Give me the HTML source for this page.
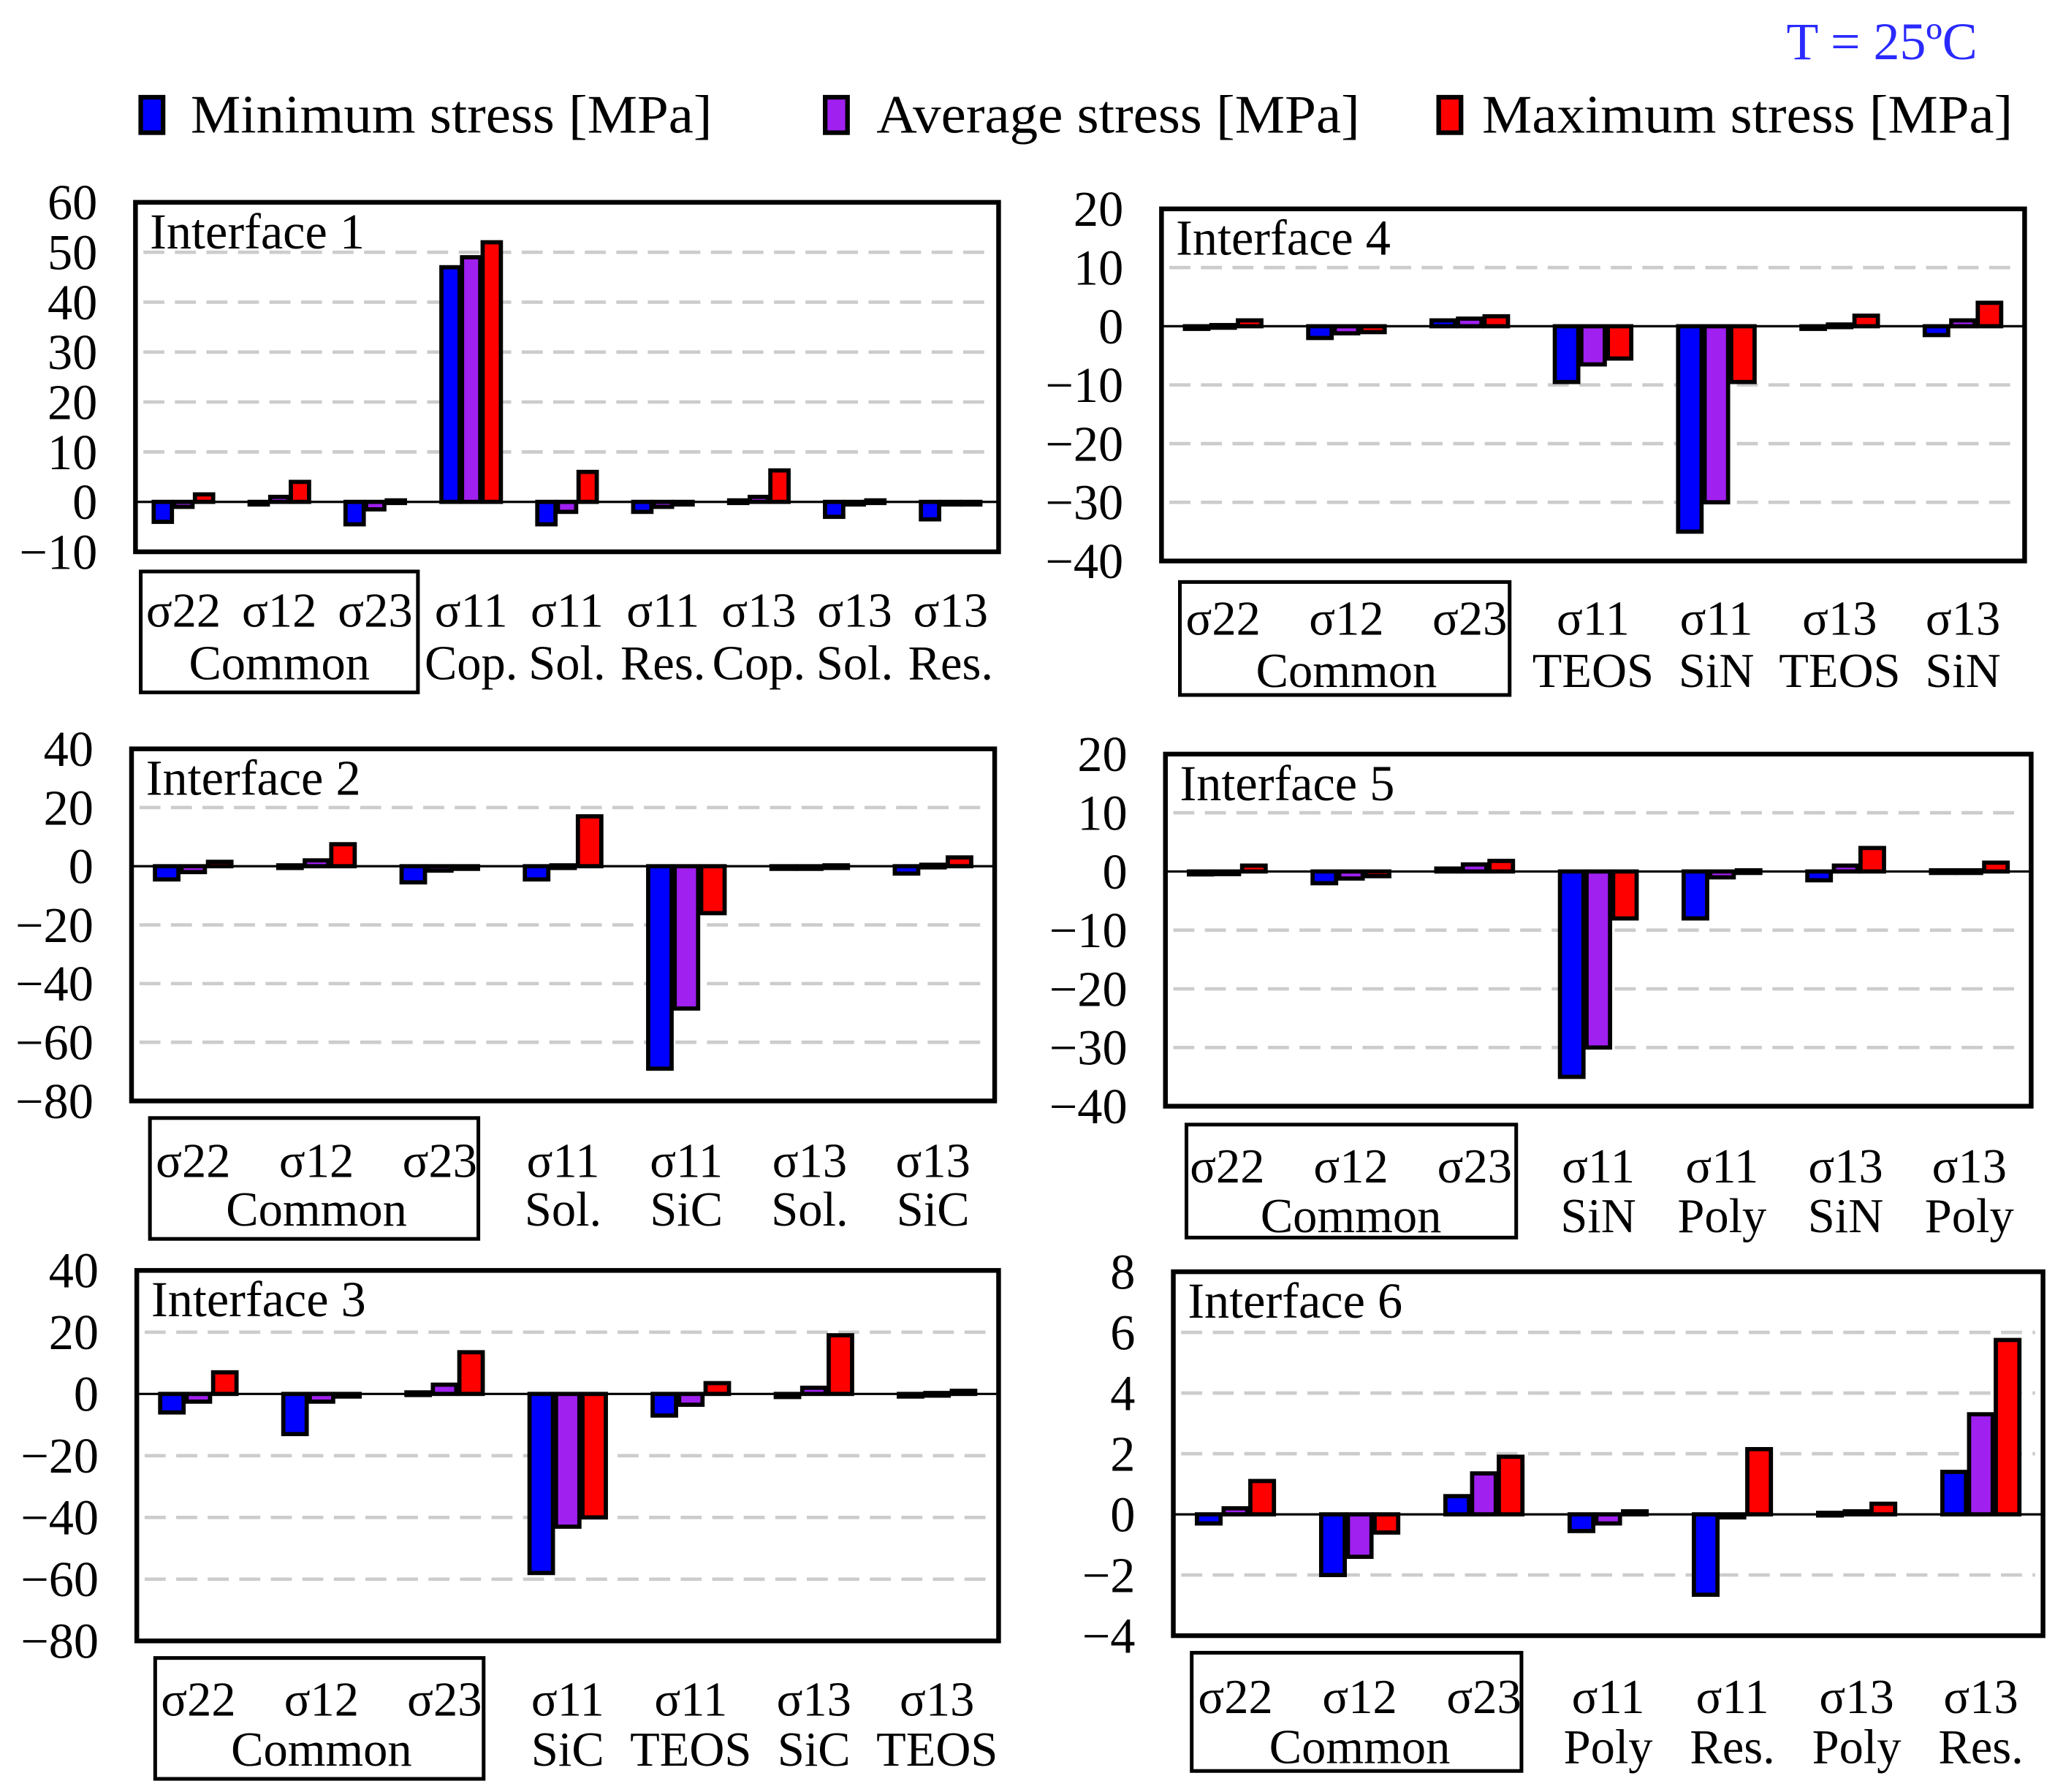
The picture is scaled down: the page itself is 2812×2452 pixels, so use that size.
<!DOCTYPE html>
<html><head><meta charset="utf-8"><style>
html,body{margin:0;padding:0;background:#fff}
svg{display:block}
text{font-family:"Liberation Serif",serif;fill:#000}
</style></head><body>
<svg id="chart" width="2812" height="2452" viewBox="0 0 1564 1364" xmlns="http://www.w3.org/2000/svg">
<text x="1505" y="45" text-anchor="end" font-size="40" style="fill:#2a2aff">T = 25ºC</text>
<g>
<g><rect x="107" y="74" width="17" height="27" fill="#0000ff" stroke="#000" stroke-width="3.5"/><text x="145" y="101" font-size="41" textLength="397" lengthAdjust="spacingAndGlyphs">Minimum stress [MPa]</text></g>
<g><rect x="628" y="74" width="17" height="27" fill="#a020f0" stroke="#000" stroke-width="3.5"/><text x="667" y="101" font-size="41" textLength="368" lengthAdjust="spacingAndGlyphs">Average stress [MPa]</text></g>
<g><rect x="1095" y="74" width="17" height="27" fill="#ff0000" stroke="#000" stroke-width="3.5"/><text x="1128" y="101" font-size="41" textLength="404" lengthAdjust="spacingAndGlyphs">Maximum stress [MPa]</text></g>
</g>
</svg>
<script>
// Interface 1
const cats1 = [["σ22",""],["σ12",""],["σ23",""],["σ11","Cop."],["σ11","Sol."],["σ11","Res."],["σ13","Cop."],["σ13","Sol."],["σ13","Res."]];
const min1 = [-4, -0.3, -4.5, 47, -4.5, -2, 0.3, -3, -3.5];
const avg1 = [-1, 1, -1.5, 49, -2, -1, 1, -0.5, -0.1];
const max1 = [1.5, 4, 0.3, 52, 6, -0.5, 6.3, 0.3, -0.1];
const ticks1 = [60, 50, 40, 30, 20, 10, 0, -10];
// Interface 2
const cats2 = [["σ22",""],["σ12",""],["σ23",""],["σ11","Sol."],["σ11","SiC"],["σ13","Sol."],["σ13","SiC"]];
const min2 = [-4.5, 0.3, -5.5, -4.5, -69, -0.5, -2.5];
const avg2 = [-2, 2, -1.5, 0.3, -48.5, -0.5, 0.5];
const max2 = [1.5, 7.5, -0.5, 17, -16, 0.3, 3];
const ticks2 = [40, 20, 0, -20, -40, -60, -80];
// Interface 3
const cats3 = [["σ22",""],["σ12",""],["σ23",""],["σ11","SiC"],["σ11","TEOS"],["σ13","SiC"],["σ13","TEOS"]];
const min3 = [-6, -13, 0.5, -58, -7, -1, -0.5];
const avg3 = [-2.5, -2.5, 3, -43, -3.5, 2, 0.3];
const max3 = [7, -0.5, 13.5, -40, 3.5, 19, 1];
const ticks3 = [40, 20, 0, -20, -40, -60, -80];
// Interface 4
const cats4 = [["σ22",""],["σ12",""],["σ23",""],["σ11","TEOS"],["σ11","SiN"],["σ13","TEOS"],["σ13","SiN"]];
const min4 = [-0.3, -2, 1, -9.5, -35, -0.2, -1.5];
const avg4 = [0.2, -1.2, 1.3, -6.5, -30, 0.3, 1];
const max4 = [1, -1, 1.7, -5.5, -9.5, 1.8, 4];
const ticks4 = [20, 10, 0, -10, -20, -30, -40];
// Interface 5
const cats5 = [["σ22",""],["σ12",""],["σ23",""],["σ11","SiN"],["σ11","Poly"],["σ13","SiN"],["σ13","Poly"]];
const min5 = [-0.5, -2, 0.5, -35, -8, -1.5, 0.2];
const avg5 = [-0.3, -1.2, 1.2, -30, -1, 1, 0.2];
const max5 = [1, -0.8, 1.8, -8, 0.2, 4, 1.5];
const ticks5 = [20, 10, 0, -10, -20, -30, -40];
// Interface 6
const cats6 = [["σ22",""],["σ12",""],["σ23",""],["σ11","Poly"],["σ11","Res."],["σ13","Poly"],["σ13","Res."]];
const min6 = [-0.3, -2, 0.6, -0.55, -2.65, 0.05, 1.4];
const avg6 = [0.2, -1.4, 1.35, -0.3, -0.1, 0.1, 3.3];
const max6 = [1.1, -0.6, 1.9, 0.1, 2.15, 0.35, 5.75];
const ticks6 = [8, 6, 4, 2, 0, -2, -4];

const NS = "http://www.w3.org/2000/svg";
const svg = document.getElementById("chart");
function mk(tag, attrs, parent) {
  const e = document.createElementNS(NS, tag);
  for (const k in attrs) e.setAttribute(k, attrs[k]);
  parent.appendChild(e);
  return e;
}
const COLORS = ["#0000ff", "#a020f0", "#ff0000"];
const SERIES = ["minimum", "average", "maximum"];

function panel(id, title, box, cats, series, ticks, catBox, labY) {
  const g = mk("g", {}, svg);
  
  
  const [x0, y0, x1, y1] = box;
  const vmax = ticks[0], vmin = ticks[ticks.length - 1];
  const yS = v => y0 + (vmax - v) / (vmax - vmin) * (y1 - y0);
  const cw = (x1 - x0) / cats.length;
  const xC = i => x0 + (i + 0.5) * cw;
  ticks.forEach(t => {
    if (t === vmax || t === vmin || t === 0) return;
    const l = mk("line", {x1: x0 + 6, x2: x1 - 6, y1: yS(t), y2: yS(t), stroke: "#cccccc", "stroke-width": 2.6, "stroke-dasharray": "16 8"}, g);
    
    
  });
  ticks.forEach(t => {
    const tx = mk("text", {x: x0 - 29, y: yS(t) + 13, "text-anchor": "end", "font-size": 38}, g);
    
    
    tx.textContent = t < 0 ? "\u2212" + Math.abs(t) : String(t);
  });
  const pitch = cw * 0.215, bw = cw * 0.19;
  cats.forEach((c, i) => {
    series.forEach((arr, s) => {
      const v = arr[i];
      const cx = xC(i) + (s - 1) * pitch;
      const ya = yS(Math.max(v, 0)), yb = yS(Math.min(v, 0));
      const r = mk("rect", {x: cx - bw / 2, y: ya, width: bw, height: Math.max(yb - ya, 2), fill: COLORS[s], stroke: "#000", "stroke-width": 3.2}, g);
      
      
    });
  });
  const z = mk("line", {x1: x0, x2: x1, y1: yS(0), y2: yS(0), stroke: "#000", "stroke-width": 1.8}, g);
  
  
  const f = mk("rect", {x: x0, y: y0, width: x1 - x0, height: y1 - y0, fill: "none", stroke: "#000", "stroke-width": 3.6}, g);
  
  
  const tt = mk("text", {x: x0 + 11, y: y0 + 35, "font-size": 38}, g);
  
  
  tt.textContent = title;
  cats.forEach((c, i) => {
    const t1 = mk("text", {x: xC(i), y: labY[0], "text-anchor": "middle", "font-size": 37}, g);
    
    
    t1.textContent = c[0];
    if (c[1]) {
      const t2 = mk("text", {x: xC(i), y: labY[1], "text-anchor": "middle", "font-size": 37}, g);
      
      
      t2.textContent = c[1];
    }
  });
  const cb = mk("rect", {x: catBox[0], y: catBox[1], width: catBox[2] - catBox[0], height: catBox[3] - catBox[1], fill: "none", stroke: "#000", "stroke-width": 2.8}, g);
  
  
  const cm = mk("text", {x: (xC(0) + xC(2)) / 2, y: labY[1], "text-anchor": "middle", "font-size": 37}, g);
  
  
  cm.textContent = "Common";
}

panel(1, "Interface 1", [103, 154, 760, 420], cats1, [min1, avg1, max1], ticks1, [107, 435, 318, 527], [477, 517]);
panel(4, "Interface 4", [884, 159, 1541, 427], cats4, [min4, avg4, max4], ticks4, [898, 443, 1149, 529], [483, 523]);
panel(2, "Interface 2", [100, 570, 757, 838], cats2, [min2, avg2, max2], ticks2, [114, 851, 364, 943], [896, 933]);
panel(5, "Interface 5", [887, 574, 1546, 842], cats5, [min5, avg5, max5], ticks5, [903, 856, 1154, 942], [900, 938]);
panel(3, "Interface 3", [104, 967, 760, 1249], cats3, [min3, avg3, max3], ticks3, [118, 1262, 368, 1354], [1306, 1344]);
panel(6, "Interface 6", [893, 968, 1555, 1245], cats6, [min6, avg6, max6], ticks6, [907, 1258, 1158, 1348], [1304, 1342]);
</script>
</body></html>
